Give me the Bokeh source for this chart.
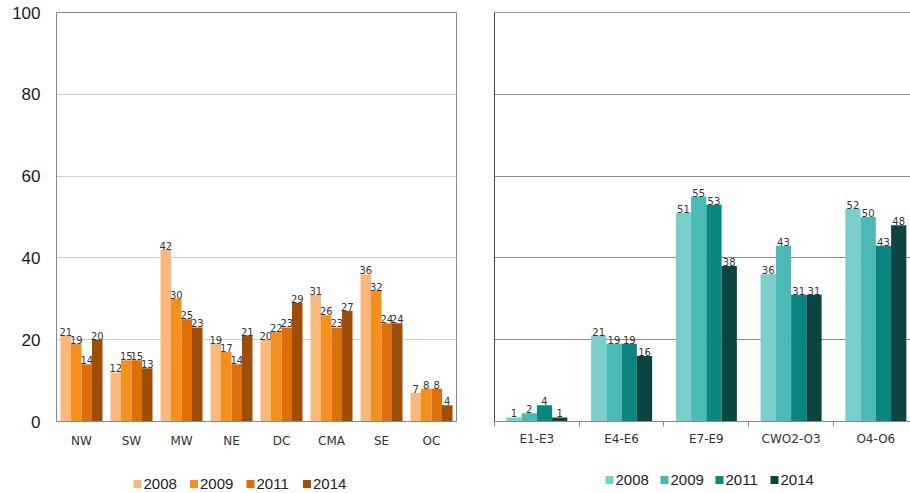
from bokeh.plotting import figure
from bokeh.layouts import row, column
from bokeh.models import ColumnDataSource, FixedTicker, Range1d, Span
from bokeh.core.properties import value
from bokeh.embed import file_html
from bokeh.resources import INLINE

years = ["2008", "2009", "2011", "2014"]

# Share by region
regions = ["NW", "SW", "MW", "NE", "DC", "CMA", "SE", "OC"]
region_2008 = [21, 12, 42, 19, 20, 31, 36, 7]
region_2009 = [19, 15, 30, 17, 22, 26, 32, 8]
region_2011 = [14, 15, 25, 14, 23, 23, 24, 8]
region_2014 = [20, 13, 23, 21, 29, 27, 24, 4]

# Share by pay grade
grades = ["E1-E3", "E4-E6", "E7-E9", "CWO2-O3", "O4-O6"]
grade_2008 = [1, 21, 51, 36, 52]
grade_2009 = [2, 19, 55, 43, 50]
grade_2011 = [4, 19, 53, 31, 43]
grade_2014 = [1, 16, 38, 31, 48]

y_ticks = [0, 20, 40, 60, 80, 100]

orange = ["#FBB87C", "#F5901E", "#DD6F0A", "#9E4E09"]
teal = ["#7ACFCA", "#4BB9B5", "#0B8580", "#0B4541"]

LABEL_FONT = "DejaVu Sans"
NUM_FONT = "Liberation Sans"
CHART_H = 460
LEGEND_H = 33
FRAME_BOTTOM = 421


def grouped_bars(p, cats, series, colors, bar_w):
    n = len(series)
    for k, (vals, col) in enumerate(zip(series, colors)):
        off = (k - (n - 1) / 2) * bar_w
        xs = [i + 0.5 + off for i in range(len(cats))]
        src = ColumnDataSource(dict(x=xs, top=vals, lbl=[str(v) for v in vals]))
        p.vbar(x="x", top="top", width=bar_w, source=src,
               fill_color=col, line_color=None)
        p.text(x="x", y="top", text="lbl", source=src,
               text_font=value(LABEL_FONT), text_font_size="10px",
               text_color="#333333", text_align="center",
               text_baseline="alphabetic", y_offset=-4)


def style_common(p, cats, grid_color):
    p.xaxis.ticker = FixedTicker(ticks=[i + 0.5 for i in range(len(cats))])
    p.xaxis.major_label_overrides = {i + 0.5: c for i, c in enumerate(cats)}
    p.xaxis.major_tick_line_color = None
    p.xaxis.major_tick_out = 0
    p.xaxis.major_label_standoff = 12
    p.xaxis.major_label_text_font = LABEL_FONT
    p.xaxis.major_label_text_font_size = "12px"
    p.xaxis.major_label_text_color = "#333333"
    p.xaxis.axis_line_color = "#8a8a8a"
    p.xgrid.grid_line_color = None
    p.ygrid.ticker = FixedTicker(ticks=y_ticks)
    p.ygrid.grid_line_color = grid_color
    p.ygrid.grid_line_width = 1
    p.background_fill_color = "white"
    p.border_fill_color = "white"


def legend_strip(width, border_left, border_right, colors, start, pitch, mid):
    """Thin strip under a chart holding the year key (pixel coordinates)."""
    fw = width - border_left - border_right
    f = figure(width=width, height=LEGEND_H, output_backend="svg",
               toolbar_location=None, x_range=Range1d(0, fw),
               y_range=Range1d(0, LEGEND_H),
               min_border_left=border_left, min_border_right=border_right,
               min_border_top=0, min_border_bottom=0)
    f.axis.visible = False
    f.grid.grid_line_color = None
    f.outline_line_color = None
    f.background_fill_color = "white"
    f.border_fill_color = "white"
    xs = [start + k * pitch for k in range(len(years))]
    src = ColumnDataSource(dict(x=xs, tx=[x + 6 for x in xs],
                                y=[mid] * len(years), c=colors, t=years))
    f.rect(x="x", y="y", width=8, height=8, width_units="screen",
           height_units="screen", fill_color="c", line_color=None, source=src)
    f.text(x="tx", y="y", text="t", source=src, text_font=value(NUM_FONT),
           text_font_size="15px", text_color="#222222", text_align="left",
           text_baseline="middle")
    return f


# Left panel: regions
p1 = figure(width=470, height=CHART_H, output_backend="svg", toolbar_location=None,
            x_range=Range1d(0, 8), y_range=Range1d(0, 100),
            min_border_left=56, min_border_right=14, min_border_top=12,
            min_border_bottom=CHART_H - FRAME_BOTTOM)
grouped_bars(p1, regions, [region_2008, region_2009, region_2011, region_2014],
             orange, 0.21)
style_common(p1, regions, "#cfcfcf")
p1.yaxis.ticker = FixedTicker(ticks=y_ticks)
p1.yaxis.major_tick_line_color = None
p1.yaxis.minor_tick_line_color = None
p1.yaxis.major_tick_out = 0
p1.yaxis.major_label_standoff = 16
p1.yaxis.major_label_text_font = NUM_FONT
p1.yaxis.major_label_text_font_size = "17px"
p1.yaxis.major_label_text_color = "#1a1a1a"
p1.yaxis.axis_line_color = "#8a8a8a"
p1.outline_line_color = "#8a8a8a"
leg1 = legend_strip(470, 56, 14, orange, 137 - 56, 56.5, 9.5)

# Right panel: pay grades
p2 = figure(width=440, height=CHART_H, output_backend="svg", toolbar_location=None,
            x_range=Range1d(0, 4.909), y_range=Range1d(0, 100),
            min_border_left=24, min_border_right=0, min_border_top=12,
            min_border_bottom=CHART_H - FRAME_BOTTOM)
grouped_bars(p2, grades, [grade_2008, grade_2009, grade_2011, grade_2014],
             teal, 0.18)
style_common(p2, grades, "#8c8c8c")
p2.xaxis.ticker = FixedTicker(ticks=[i + 0.5 for i in range(len(grades))],
                              minor_ticks=list(range(len(grades) + 1)))
p2.xaxis.minor_tick_line_color = "#8a8a8a"
p2.xaxis.minor_tick_out = 5
p2.xaxis.minor_tick_in = 0
p2.xaxis.major_label_standoff = 5
p2.yaxis.ticker = FixedTicker(ticks=[])
p2.yaxis.major_tick_line_color = None
p2.yaxis.minor_tick_line_color = None
p2.yaxis.axis_line_color = "#4a4a4a"
p2.outline_line_color = None
p2.add_layout(Span(location=100, dimension="width", line_color="#4a4a4a",
                   line_width=1))
leg2 = legend_strip(440, 24, 0, teal, 609 - 494, 55, 13.5)

layout = row(column(p1, leg1, spacing=0), column(p2, leg2, spacing=0), spacing=0)
open("out.html", "w").write(file_html(layout, INLINE))
